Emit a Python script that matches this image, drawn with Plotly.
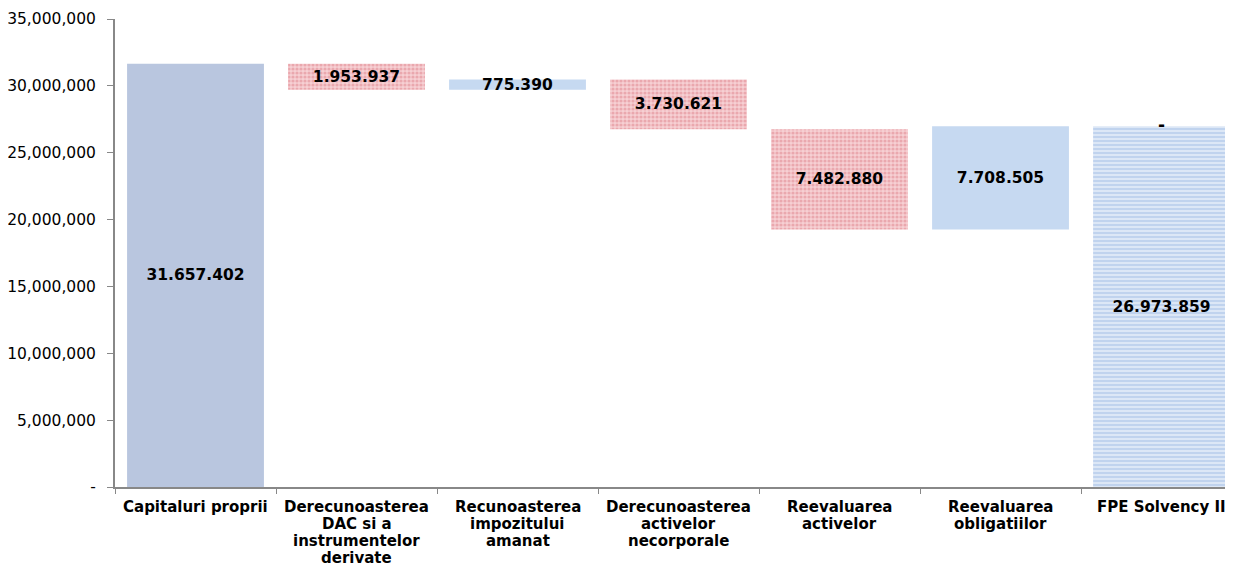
import plotly.graph_objects as go

categories = [
    "Capitaluri proprii",
    "Derecunoasterea<br>DAC si a<br>instrumentelor<br>derivate",
    "Recunoasterea<br>impozitului<br>amanat",
    "Derecunoasterea<br>activelor<br>necorporale",
    "Reevaluarea<br>activelor",
    "Reevaluarea<br>obligatiilor",
    "FPE Solvency II",
]
start_value = 31657402
changes = [-1953937, 775390, -3730621, -7482880, 7708505]
final_value = 26973859
tick_values = [0, 5000000, 10000000, 15000000, 20000000, 25000000, 30000000, 35000000]
tick_labels = ["-", "5,000,000", "10,000,000", "15,000,000", "20,000,000",
               "25,000,000", "30,000,000", "35,000,000"]

def fmt(v):
    return f"{abs(v):,}".replace(",", ".")

# compute floating bases from running total
running = start_value
dec_x, dec_base, dec_h, dec_t = [], [], [], []
inc_x, inc_base, inc_h, inc_t = [], [], [], []
for cat, ch in zip(categories[1:6], changes):
    new = running + ch
    if ch < 0:
        dec_x.append(cat); dec_base.append(new); dec_h.append(-ch); dec_t.append(fmt(ch))
    else:
        inc_x.append(cat); inc_base.append(running); inc_h.append(ch); inc_t.append(fmt(ch))
    running = new

FONT = "DejaVu Sans"
W = 0.85
txtfont = dict(family=FONT, size=15.5, color="black", weight="bold")

fig = go.Figure()
fig.add_bar(x=[categories[0]], y=[start_value], base=[0], width=W,
            marker=dict(color="#B9C6DF", line=dict(width=0)),
            text=[fmt(start_value)], textposition="inside", insidetextanchor="middle",
            constraintext="none", textfont=txtfont, hoverinfo="skip")
fig.add_bar(x=dec_x, y=dec_h, base=dec_base, width=W,
            marker=dict(color="#F4C4C9", line=dict(width=0),
                        pattern=dict(shape=".", fgcolor="#DD7F8A", bgcolor="#F6D0D3",
                                     size=4, solidity=0.5)),
            text=dec_t, textposition="inside", insidetextanchor="middle",
            constraintext="none", textfont=txtfont, hoverinfo="skip")
fig.add_bar(x=inc_x, y=inc_h, base=inc_base, width=W,
            marker=dict(color="#C6D9F1", line=dict(width=0)),
            text=inc_t, textposition="inside", insidetextanchor="middle",
            constraintext="none", textfont=txtfont, hoverinfo="skip")
fig.add_bar(x=[categories[6]], y=[final_value], base=[0], width=W,
            marker=dict(color="#D6E3F5", line=dict(width=0),
                        pattern=dict(shape="-", fgcolor="#9DBBE6", bgcolor="#DCE7F6",
                                     size=4, solidity=0.45)),
            text=[fmt(final_value)], textposition="inside", insidetextanchor="middle",
            constraintext="none", textfont=txtfont, hoverinfo="skip")
fig.add_scatter(x=[categories[6]], y=[final_value], mode="text", text=["-"],
                textposition="middle center",
                textfont=dict(family=FONT, size=17, color="black", weight="bold"),
                hoverinfo="skip")

# category labels as per-line annotations for tight line spacing
for cat in categories:
    for i, line in enumerate(cat.split("<br>")):
        fig.add_annotation(x=cat, y=0, xref="x", yref="paper", text=line,
                           showarrow=False, yanchor="middle", xanchor="center",
                           yshift=-(19.5 + 17 * i),
                           font=dict(family=FONT, size=15, color="black", weight="bold"))

fig.update_layout(
    width=1225, height=558,
    margin=dict(l=107, r=0, t=11, b=79),
    paper_bgcolor="white", plot_bgcolor="white",
    barmode="overlay", showlegend=False,
    font=dict(family=FONT, size=14, color="black"),
)
fig.update_xaxes(
    type="category", categoryorder="array", categoryarray=categories,
    range=[-0.5, 6.444], showgrid=False, automargin=False, showticklabels=False,
    showline=True, linecolor="#888888", linewidth=2,
    ticks="outside", tickson="boundaries", ticklen=5, tickcolor="#888888",
)
fig.update_yaxes(
    range=[0, 35000000], tickvals=tick_values, ticktext=tick_labels,
    showgrid=False, zeroline=False, automargin=False,
    showline=True, linecolor="#888888", linewidth=2,
    ticks="outside", ticklen=6, tickcolor="#888888", ticklabelstandoff=8,
    tickfont=dict(family=FONT, size=15.5, color="black"),
)
fig.write_html("out.html")
